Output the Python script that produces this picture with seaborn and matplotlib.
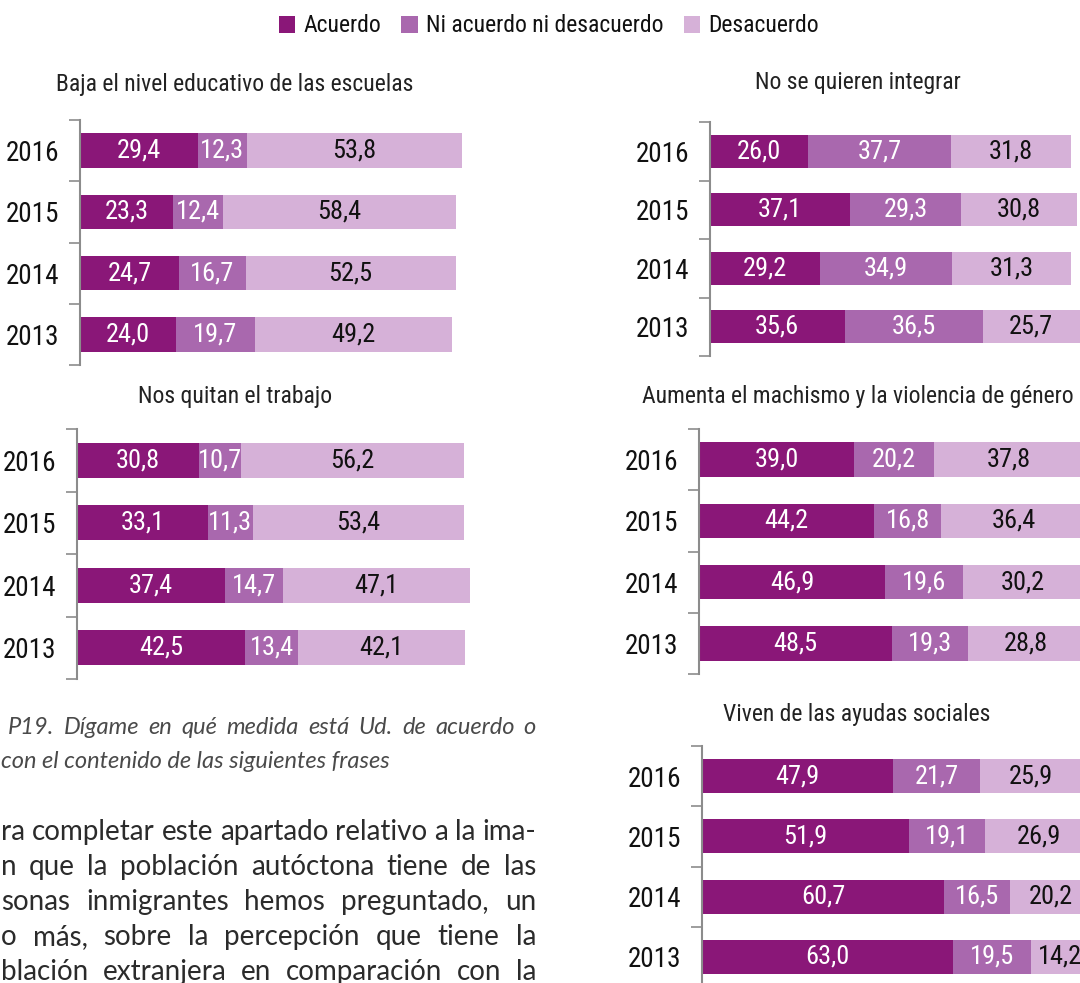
import matplotlib
matplotlib.use('Agg')
import matplotlib.pyplot as plt
from matplotlib import font_manager
from matplotlib.patches import Patch
import seaborn as sns
import pandas as pd

# Data
years = ['2016', '2015', '2014', '2013']
series = ['Acuerdo', 'Ni acuerdo ni desacuerdo', 'Desacuerdo']

educ_acuerdo = [29.4, 23.3, 24.7, 24.0]
educ_ni = [12.3, 12.4, 16.7, 19.7]
educ_des = [53.8, 58.4, 52.5, 49.2]

trabajo_acuerdo = [30.8, 33.1, 37.4, 42.5]
trabajo_ni = [10.7, 11.3, 14.7, 13.4]
trabajo_des = [56.2, 53.4, 47.1, 42.1]

integrar_acuerdo = [26.0, 37.1, 29.2, 35.6]
integrar_ni = [37.7, 29.3, 34.9, 36.5]
integrar_des = [31.8, 30.8, 31.3, 25.7]

machismo_acuerdo = [39.0, 44.2, 46.9, 48.5]
machismo_ni = [20.2, 16.8, 19.6, 19.3]
machismo_des = [37.8, 36.4, 30.2, 28.8]

ayudas_acuerdo = [47.9, 51.9, 60.7, 63.0]
ayudas_ni = [21.7, 19.1, 16.5, 19.5]
ayudas_des = [25.9, 26.9, 20.2, 14.2]

caption = ['P19. Dígame en qué medida está Ud. de acuerdo o',
           'con el contenido de las siguientes frases']
body = ['ra completar este apartado relativo a la ima-',
        'n que la población autóctona tiene de las',
        'sonas inmigrantes hemos preguntado, un',
        'o más, sobre la percepción que tiene la',
        'blación extranjera en comparación con la']

colors = ['#8a1778', '#a968ae', '#d6b1d8']

sns.set_style('white')

# condensed font if available
narrow = 'DejaVu Sans'
for cand in ['Liberation Sans Narrow', 'Roboto Condensed', 'DejaVu Sans Condensed']:
    try:
        font_manager.findfont(cand, fallback_to_default=False)
        narrow = cand
        break
    except Exception:
        pass
plt.rcParams['font.family'] = [narrow, 'DejaVu Sans']

W, H = 1080, 983
fig = plt.figure(figsize=(W / 100, H / 100), dpi=100)


def fmt(v):
    return f'{v:.1f}'.replace('.', ',')


def stacked_chart(title, acuerdo, ni, des, left, top, bottom, scale, title_xy):
    ax = fig.add_axes([left / W, 1 - bottom / H, 100 * scale / W, (bottom - top) / H])
    df = pd.DataFrame({'year': years, 'a': acuerdo, 'n': ni, 'd': des})
    df['an'] = df['a'] + df['n']
    df['total'] = df['an'] + df['d']
    # stacked by drawing cumulative sums on top of each other
    for col, c in zip(['total', 'an', 'a'], colors[::-1]):
        sns.barplot(data=df, x=col, y='year', order=years, color=c, saturation=1,
                    width=0.565, linewidth=0, orient='h', ax=ax)
    for i, row in df.iterrows():
        starts = [0, row['a'], row['an']]
        for k, (s, v) in enumerate(zip(starts, [row['a'], row['n'], row['d']])):
            ax.text(s + v / 2, i, fmt(v), ha='center', va='center', fontsize=19,
                    color='white' if k < 2 else '#111111')
    ax.set_xlim(0, 100)
    ax.set_ylim(3.5, -0.5)
    ax.set_xlabel('')
    ax.set_ylabel('')
    ax.set_xticks([])
    ax.set_yticks([-0.5, 0.5, 1.5, 2.5, 3.5], minor=True)
    ax.tick_params(axis='y', which='major', left=True, length=0, pad=15,
                   labelsize=19.5, labelcolor='#111111')
    ax.tick_params(axis='y', which='minor', left=True, length=8, width=1.2,
                   color='#8c8c8c', direction='out')
    sns.despine(ax=ax, top=True, right=True, bottom=True)
    ax.spines['left'].set_color('#8c8c8c')
    ax.spines['left'].set_linewidth(1.5)
    ax.patch.set_alpha(0)
    fig.text(title_xy[0] / W, 1 - title_xy[1] / H, title, ha='center', va='center',
             fontsize=17, color='#222222')
    return ax


stacked_chart('Baja el nivel educativo de las escuelas', educ_acuerdo, educ_ni, educ_des,
              80, 120, 365, 4.0, (235, 85))
stacked_chart('Nos quitan el trabajo', trabajo_acuerdo, trabajo_ni, trabajo_des,
              77, 429, 679, 3.96, (235, 397))
stacked_chart('No se quieren integrar', integrar_acuerdo, integrar_ni, integrar_des,
              710, 122, 356, 3.78, (858, 83))
stacked_chart('Aumenta el machismo y la violencia de género', machismo_acuerdo, machismo_ni,
              machismo_des, 699, 429, 674, 3.97, (858, 397))
stacked_chart('Viven de las ayudas sociales', ayudas_acuerdo, ayudas_ni, ayudas_des,
              702, 746, 987, 3.99, (857, 715))

# legend
handles = [Patch(facecolor=c, edgecolor='none', label=s) for c, s in zip(colors, series)]
fig.legend(handles=handles, loc='center', bbox_to_anchor=(549 / W, 1 - 26 / H), ncol=3,
           frameon=False, fontsize=17, handlelength=0.7, handleheight=0.7,
           handletextpad=0.35, columnspacing=0.85, labelcolor='#111111')

# caption (italic) and body text, justified by hand
renderer = fig.canvas.get_renderer()


def justified_line(words, x0, x1, y, **kw):
    texts = [fig.text(0, 1 - y / H, w, va='center', **kw) for w in words]
    widths = [t.get_window_extent(renderer=renderer).width for t in texts]
    gap = (x1 - x0 - sum(widths)) / max(len(words) - 1, 1)
    x = x0
    for t, w in zip(texts, widths):
        t.set_x(x / W)
        x += w + gap


cap_kw = dict(family=['Lato', 'DejaVu Sans'], style='italic', fontsize=17, color='#4a4a4a')
justified_line(caption[0].split(), 8, 536, 728, **cap_kw)
fig.text(1 / W, 1 - 762 / H, caption[1], va='center', **cap_kw)

body_kw = dict(family=['Lato', 'DejaVu Sans'], fontsize=20, color='#2b2b2b')
for line, y in zip(body, [832, 867, 902, 937, 972]):
    justified_line(line.split(), 1, 536, y, **body_kw)

fig.savefig('out.png', dpi=100)
